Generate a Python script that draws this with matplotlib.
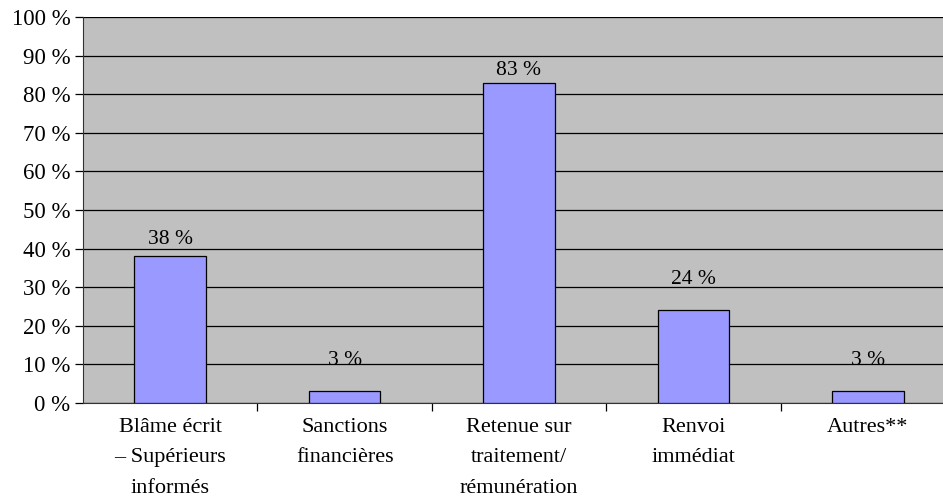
import numpy as np
import matplotlib.pyplot as plt
from matplotlib.ticker import FixedLocator

# share of respondents per type of sanction
categories = ['Blâme écrit\n– Supérieurs\ninformés', 'Sanctions\nfinancières',
              'Retenue sur\ntraitement/\nrémunération', 'Renvoi\nimmédiat', 'Autres**']
values = [38, 3, 83, 24, 3]
# distance (in points) from bar top to the centre of its value label
label_gap = [12, 22.5, 8.5, 22, 22.5]

plt.rcParams['font.family'] = ['Liberation Serif', 'DejaVu Serif']

fig = plt.figure(figsize=(9.43, 5.0), dpi=100)
# plot area runs slightly past the right edge of the canvas
ax = fig.add_axes([83 / 943, 1 - 403 / 500, 872 / 943, 386 / 500])
ax.set_facecolor('#c0c0c0')

x = np.arange(len(categories))
ax.bar(x, values, width=0.41, color='#9999ff', edgecolor='black', linewidth=0.9, zorder=3)

for xi, v, g in zip(x, values, label_gap):
    ax.annotate(f'{v} %', (xi, v), xytext=(0, g), textcoords='offset points',
                ha='center', va='center', fontsize=15.5, zorder=4)

ax.set_xlim(-0.5, len(categories) - 0.5)
ax.set_ylim(0, 100)
ax.set_yticks(np.arange(0, 101, 10))
ax.set_yticklabels([f'{t} %' for t in range(0, 101, 10)], fontsize=16.5)
ax.yaxis.grid(True, color='black', linewidth=0.9, zorder=1)

ax.set_xticks(x)
ax.set_xticklabels(categories, fontsize=16, linespacing=1.8, va='top')
ax.tick_params(axis='x', which='major', length=0, pad=11)
ax.xaxis.set_minor_locator(FixedLocator(np.arange(0.5, len(categories) - 0.5, 1)))
ax.tick_params(axis='x', which='minor', length=6, width=0.9, direction='out')
ax.tick_params(axis='y', length=6, width=0.9, direction='out', pad=3)

for side in ('top', 'right'):
    ax.spines[side].set_visible(False)
ax.spines['left'].set_color('#333333')
ax.spines['bottom'].set_color('#333333')

fig.savefig('out.png', dpi=100)
